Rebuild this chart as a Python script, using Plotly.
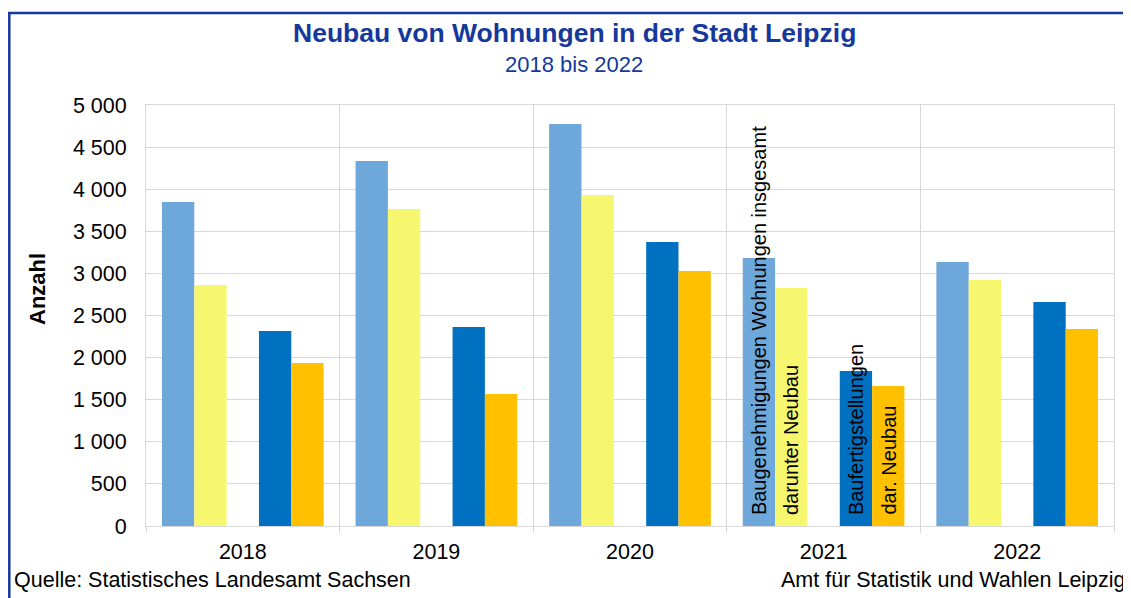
import plotly.graph_objects as go

years = ["2018", "2019", "2020", "2021", "2022"]
genehmigungen = [3848, 4335, 4774, 3183, 3135]
genehmigungen_neubau = [2862, 3765, 3931, 2827, 2922]
fertigstellungen = [2316, 2363, 3373, 1841, 2660]
fertigstellungen_neubau = [1936, 1568, 3029, 1663, 2340]

series_names = ["Baugenehmigungen Wohnungen insgesamt", "darunter Neubau",
                "Baufertigstellungen", "dar. Neubau"]
colors = ["#6ea7da", "#f7f66f", "#0070c0", "#ffc000"]
label_year = "2021"
label_shifts = [-65, -32.5, 32, 64.5]

FONT = "Arial, Liberation Sans, sans-serif"
NAVY = "#15389a"

fig = go.Figure()
fig.add_bar(x=years, y=genehmigungen, name=series_names[0], marker_color=colors[0])
fig.add_bar(x=years, y=genehmigungen_neubau, name=series_names[1], marker_color=colors[1])
fig.add_bar(x=years, y=[None] * len(years), name="", showlegend=False, hoverinfo="skip")
fig.add_bar(x=years, y=fertigstellungen, name=series_names[2], marker_color=colors[2])
fig.add_bar(x=years, y=fertigstellungen_neubau, name=series_names[3], marker_color=colors[3])
fig.update_traces(marker_line_width=0)

# the page body has an 8px margin; positions below are given in screen pixels
OFF = 8
W, H = 1131 - OFF, 598 - OFF
L, T = 146 - OFF, 105 - OFF
R = W - (1114 - OFF)
B = H - (526 - OFF)
pw, ph = W - L - R, H - T - B

def px(x):
    return (x - OFF - L) / pw

def py(y):
    return (H - B - (y - OFF)) / ph

annotations = [
    dict(text="<b>Neubau von Wohnungen in der Stadt Leipzig</b>", x=px(574), y=py(33),
         font=dict(size=26.5, color=NAVY, family=FONT)),
    dict(text="2018 bis 2022", x=px(574), y=py(65),
         font=dict(size=22, color=NAVY, family=FONT)),
    dict(text="<b>Anzahl</b>", x=px(37), y=py(289), textangle=-90,
         font=dict(size=22, color="black", family=FONT)),
    dict(text="Quelle: Statistisches Landesamt Sachsen", x=px(12), y=py(580), xanchor="left",
         font=dict(size=21.5, color="black", family=FONT)),
    dict(text="Amt für Statistik und Wahlen Leipzig", x=px(1128), y=py(580), xanchor="right",
         font=dict(size=21.5, color="black", family=FONT)),
]
for a in annotations:
    a.update(xref="paper", yref="paper", showarrow=False)
    a.setdefault("xanchor", "center")
    a.setdefault("yanchor", "middle")

label_idx = years.index(label_year)
for name, shift in zip(series_names, label_shifts):
    annotations.append(dict(text=name, x=label_idx, y=0, xref="x", yref="y",
                            xshift=shift, yshift=9, textangle=-90, showarrow=False,
                            xanchor="center", yanchor="bottom",
                            font=dict(size=20, color="black", family=FONT)))

shapes = [
    dict(type="line", xref="paper", yref="paper", x0=px(8), x1=px(1200), y0=py(13), y1=py(13),
         line=dict(color=NAVY, width=2.5)),
    dict(type="line", xref="paper", yref="paper", x0=px(9.3), x1=px(9.3), y0=py(12), y1=py(650),
         line=dict(color=NAVY, width=2.5)),
]

fig.update_layout(
    width=W, height=H, autosize=False,
    margin=dict(l=L, r=R, t=T, b=B, pad=0, autoexpand=False),
    paper_bgcolor="white", plot_bgcolor="white",
    barmode="group", bargap=0.165, bargroupgap=0,
    showlegend=False,
    separators=", ",
    font=dict(family=FONT, size=21.5, color="black"),
    annotations=annotations, shapes=shapes,
    xaxis=dict(type="category", range=[-0.5, len(years) - 0.5], autorange=False,
               tickson="boundaries", showgrid=True, gridcolor="#d9d9d9",
               gridwidth=1, showline=True, linecolor="#d9d9d9", linewidth=1, mirror=True,
               ticks="outside", ticklen=6, tickcolor="#d9d9d9", tickangle=0,
               tickfont=dict(size=21.5, color="black", family=FONT), ticklabelstandoff=6),
    yaxis=dict(range=[0, 5000], autorange=False, dtick=500, tick0=0, showgrid=True,
               gridcolor="#d9d9d9",
               gridwidth=1, showline=True, linecolor="#d9d9d9", linewidth=1, mirror=True,
               ticks="", separatethousands=True, tickformat=",d", zeroline=False,
               tickfont=dict(size=21.5, color="black", family=FONT), ticklabelstandoff=14),
)

fig.write_html("out.html")
